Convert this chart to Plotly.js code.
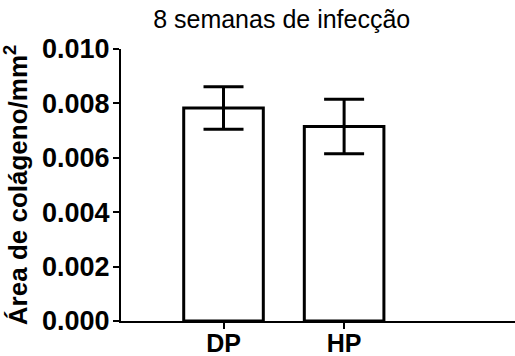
<!DOCTYPE html>
<html>
<head>
<meta charset="utf-8">
<script src="https://cdn.plot.ly/plotly-3.0.1.min.js"></script>
<style>html,body{margin:0;padding:0;background:#fff}#chart{width:515px;height:356px}</style>
</head>
<body>
<div id="chart"></div>
<script>
const categories = ['DP', 'HP'];
const means = [0.00783, 0.00715];
const errors = [0.00078, 0.00100];
const yTickVals = [0, 0.002, 0.004, 0.006, 0.008, 0.010];
const yTickText = ['0.000', '0.002', '0.004', '0.006', '0.008', '0.010'];
const chartTitle = '8 semanas de infecção';
const yTitle = '<b>Área de colágeno/mm<sup>2</sup></b>';

const trace = {
  type: 'bar',
  x: categories,
  y: means,
  width: 0.66,
  marker: {color: '#ffffff', line: {color: '#000000', width: 3}},
  error_y: {type: 'data', array: errors, visible: true, color: '#000000', thickness: 3, width: 20},
  hoverinfo: 'none'
};

const layout = {
  width: 515, height: 356,
  margin: {l: 121, r: 0, t: 49, b: 35, pad: 0},
  paper_bgcolor: '#ffffff', plot_bgcolor: '#ffffff',
  showlegend: false,
  font: {family: 'Liberation Sans, Arial, sans-serif', color: '#000000'},
  title: {text: chartTitle, font: {size: 25, color: '#000000', family: 'Liberation Sans, Arial, sans-serif'},
          xref: 'container', x: 0.547, xanchor: 'center', yref: 'container', y: 0.947, yanchor: 'middle'},
  xaxis: {
    type: 'category', range: [-0.85, 2.417], showgrid: false, zeroline: false,
    showline: true, linecolor: '#000000', linewidth: 2,
    ticks: 'outside', ticklen: 6, tickwidth: 2, tickcolor: '#000000',
    ticklabelstandoff: -7,
    tickfont: {family: 'Liberation Sans, Arial, sans-serif', size: 25, weight: 'bold', color: '#000000'}, fixedrange: true
  },
  yaxis: {
    range: [0, 0.010], showgrid: false, zeroline: false,
    showline: true, linecolor: '#000000', linewidth: 2,
    ticks: 'outside', ticklen: 6, tickwidth: 2, tickcolor: '#000000',
    tickvals: yTickVals, ticktext: yTickText,
    ticklabelstandoff: -2,
    tickfont: {family: 'Liberation Sans, Arial, sans-serif', size: 27, weight: 'bold', color: '#000000'},
    title: {text: yTitle, font: {family: 'Liberation Sans, Arial, sans-serif', size: 26, color: '#000000'}, standoff: 8},
    automargin: false, fixedrange: true
  }
};

Plotly.newPlot('chart', [trace], layout, {displayModeBar: false, staticPlot: true});
</script>
</body>
</html>
